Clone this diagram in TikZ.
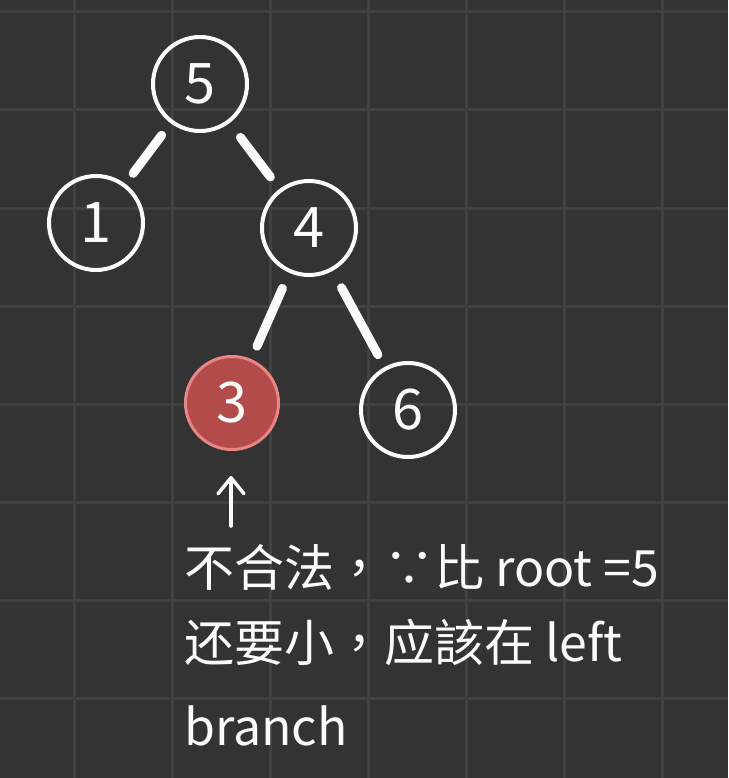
\documentclass[tikz,border=0pt]{standalone}
\usepackage{fontspec}
\setmainfont{Noto Sans CJK TC}
\usetikzlibrary{arrows.meta,calc}
\definecolor{bg}{HTML}{333333}
\definecolor{gridc}{HTML}{414141}
\definecolor{redfill}{HTML}{B34B4B}
\definecolor{redring}{HTML}{E88585}
\definecolor{ink}{HTML}{FAFAFA}
\begin{document}
\begin{tikzpicture}[x=1pt,y=-1pt,
  treenode/.style={circle,draw=ink,line width=4pt,minimum size=94pt,inner sep=0pt,text=ink,font=\fontsize{56}{56}\selectfont},
  badnode/.style={treenode,fill=redfill,draw=redring,line width=3pt,minimum size=93pt},
  edge/.style={draw=ink,line width=9pt,line cap=round},
  note/.style={anchor=base west,inner sep=0pt,text=ink,font=\fontsize{50}{50}\selectfont},
  pointer/.style={draw=ink,line width=3.5pt,line cap=round,line join=round,-{Straight Barb[length=16pt,width=26pt,round]}}]
\useasboundingbox (0,0) rectangle (728,778);
\fill[bg] (0,0) rectangle (728,778);
\foreach \gx in {74,172,270,368,466,564,662} \draw[gridc,line width=3pt] (\gx,0) -- (\gx,778);
\foreach \gy in {12,110,208,306,404,502,600,698} \draw[gridc,line width=3pt] (0,\gy) -- (728,\gy);
\node[treenode] (n5) at (200,84) {5};
\node[treenode] (n1) at (96,223) {1};
\node[treenode] (n4) at (309,228) {4};
\node[badnode] (n3) at (232,403) {3};
\node[treenode] (n6) at (408,410) {6};
\draw[edge] ($(n5)!64pt!(n1)$) -- ($(n1)!62pt!(n5)$);
\draw[edge] ($(n5)!67pt!(n4)$) -- ($(n4)!64pt!(n5)$);
\draw[edge] ($(n4)!66pt!(n3)$) -- ($(n3)!62pt!(n4)$);
\draw[edge] ($(n4)!68pt!(n6)$) -- ($(n6)!63pt!(n4)$);
\coordinate (atail) at (231,526);
\coordinate (ahead) at (231,476);
\draw[pointer] (atail) -- (ahead);
\node[note] (t1) at (184,586) {不合法，∵比 root =5};
\node[note] (t2) at (184,661) {还要小，应該在 left};
\node[note] (t3) at (184,745) {branch};
\end{tikzpicture}
\end{document}
